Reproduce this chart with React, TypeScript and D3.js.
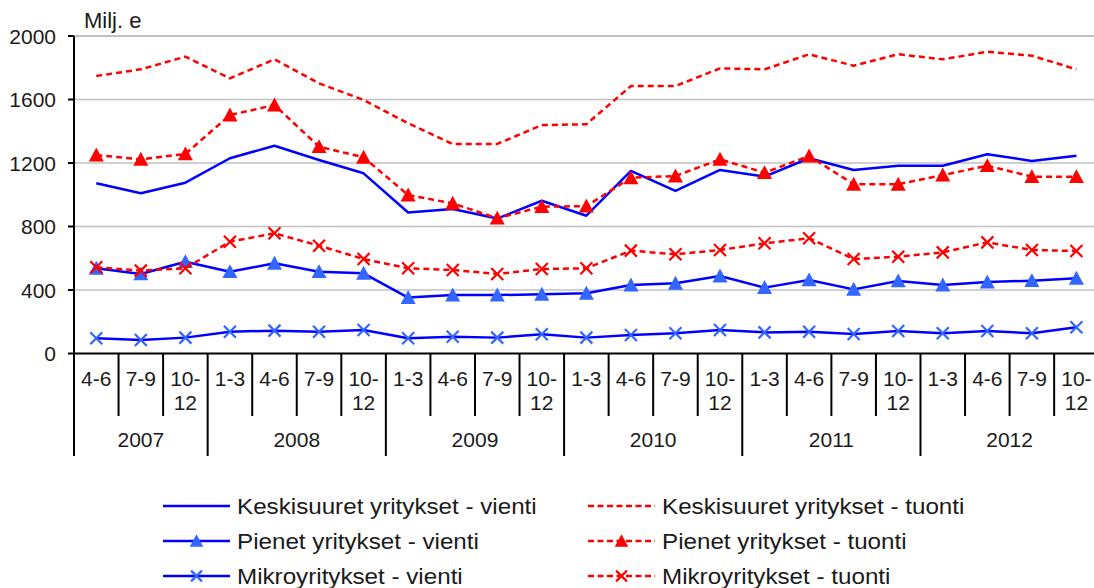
import React from "react";
import * as d3 from "d3";

// quarters, 2007 Q2 .. 2012 Q4
const quarters = [
  "4-6", "7-9", "10-12",
  "1-3", "4-6", "7-9", "10-12",
  "1-3", "4-6", "7-9", "10-12",
  "1-3", "4-6", "7-9", "10-12",
  "1-3", "4-6", "7-9", "10-12",
  "1-3", "4-6", "7-9", "10-12",
];
const years = ["2007", "2008", "2009", "2010", "2011", "2012"];
const yearSpans = [3, 4, 4, 4, 4, 4];
const yTicks = [0, 400, 800, 1200, 1600, 2000];

const keskiVienti = [1072, 1009, 1076, 1230, 1309, 1219, 1135, 888, 910, 850, 962, 868, 1150, 1024, 1156, 1114, 1230, 1156, 1183, 1183, 1255, 1213, 1246];
const keskiTuonti = [1748, 1790, 1870, 1733, 1853, 1702, 1597, 1450, 1320, 1320, 1439, 1444, 1685, 1685, 1796, 1790, 1885, 1813, 1885, 1853, 1901, 1876, 1790];
const pienetVienti = [537, 501, 578, 515, 568, 515, 505, 352, 368, 368, 373, 379, 431, 442, 488, 415, 463, 404, 457, 431, 450, 459, 474];
const pienetTuonti = [1250, 1223, 1257, 1502, 1565, 1303, 1236, 998, 946, 852, 925, 928, 1107, 1118, 1223, 1139, 1244, 1066, 1066, 1124, 1183, 1114, 1114];
const mikroVienti = [96, 85, 100, 137, 144, 137, 148, 96, 106, 100, 121, 100, 117, 127, 148, 133, 137, 123, 142, 127, 142, 127, 165];
const mikroTuonti = [543, 522, 537, 704, 757, 679, 595, 537, 526, 501, 532, 537, 648, 625, 652, 694, 726, 595, 610, 637, 700, 652, 646];

const BLUE = "#0000ff";
const LIGHT_BLUE = "#3366ff";
const RED = "#ff0000";
const FONT = "Liberation Sans, Arial, sans-serif";

type Series = {
  name: string;
  values: number[];
  color: string;
  dashed: boolean;
  marker: "none" | "triangle" | "x";
  markerColor: string;
};

const series: Series[] = [
  { name: "Keskisuuret yritykset - vienti", values: keskiVienti, color: BLUE, dashed: false, marker: "none", markerColor: BLUE },
  { name: "Keskisuuret yritykset - tuonti", values: keskiTuonti, color: RED, dashed: true, marker: "none", markerColor: RED },
  { name: "Pienet yritykset - vienti", values: pienetVienti, color: BLUE, dashed: false, marker: "triangle", markerColor: LIGHT_BLUE },
  { name: "Pienet yritykset - tuonti", values: pienetTuonti, color: RED, dashed: true, marker: "triangle", markerColor: RED },
  { name: "Mikroyritykset - vienti", values: mikroVienti, color: BLUE, dashed: false, marker: "x", markerColor: LIGHT_BLUE },
  { name: "Mikroyritykset - tuonti", values: mikroTuonti, color: RED, dashed: true, marker: "x", markerColor: RED },
];

const Marker = ({ type, x, y, color, size = 1 }: { type: string; x: number; y: number; color: string; size?: number }) => {
  if (type === "triangle") {
    const s = 7.5 * size;
    return <path d={`M${x},${y - s}L${x + s},${y + s * 0.85}L${x - s},${y + s * 0.85}Z`} fill={color} />;
  }
  if (type === "x") {
    const s = 6 * size;
    return (
      <path
        d={`M${x - s},${y - s}L${x + s},${y + s}M${x - s},${y + s}L${x + s},${y - s}`}
        stroke={color}
        strokeWidth={2.2}
        fill="none"
      />
    );
  }
  return null;
};

export default function App() {
  const width = 1094;
  const height = 588;
  const left = 74;
  const right = 1098.7;
  const top = 36;
  const bottom = 353.5;

  const x = d3.scaleBand<number>().domain(d3.range(quarters.length)).range([left, right]).paddingInner(0).paddingOuter(0);
  const bw = x.bandwidth();
  const cx = (i: number) => (x(i) as number) + bw / 2;
  const y = d3.scaleLinear().domain([0, 2000]).range([bottom, top]);

  const line = d3
    .line<number>()
    .x((_, i) => cx(i))
    .y((d) => y(d));

  // year boundaries as category indices
  const yearStarts: number[] = [];
  let acc = 0;
  yearSpans.forEach((s) => {
    yearStarts.push(acc);
    acc += s;
  });

  const edge = (i: number) => (i >= quarters.length ? right : (x(i) as number));

  return (
    <svg
      width={width}
      height={height}
      style={{ position: "absolute", left: 0, top: 0, background: "#fff" }}
      fontFamily={FONT}
    >
      {/* gridlines */}
      {yTicks
        .filter((t) => t > 0)
        .map((t) => (
          <line key={t} x1={left} x2={right} y1={y(t)} y2={y(t)} stroke="#c0c0c0" strokeWidth={t === 2000 ? 2 : 1.5} />
        ))}

      {/* y axis */}
      <line x1={left} x2={left} y1={top} y2={bottom} stroke="#000" strokeWidth={2} />
      {yTicks.map((t) => (
        <g key={t}>
          <line x1={left - 6} x2={left} y1={y(t)} y2={y(t)} stroke="#000" strokeWidth={2} />
          <text x={56} y={y(t)} dy="0.36em" textAnchor="end" fontSize={21} fill="#1a1a1a">
            {t}
          </text>
        </g>
      ))}
      <text x={84} y={28} fontSize={22} fill="#1a1a1a">
        Milj. e
      </text>

      {/* x axis */}
      <line x1={left} x2={right} y1={bottom} y2={bottom} stroke="#000" strokeWidth={2} />
      {quarters.map((q, i) => {
        const isYear = yearStarts.includes(i);
        const parts = q === "10-12" ? ["10-", "12"] : [q];
        return (
          <g key={i}>
            <line x1={edge(i)} x2={edge(i)} y1={bottom} y2={isYear ? 456 : 416} stroke="#000" strokeWidth={2} />
            {parts.map((p, k) => (
              <text key={k} x={cx(i)} y={386 + k * 24} textAnchor="middle" fontSize={21} fill="#1a1a1a">
                {p}
              </text>
            ))}
          </g>
        );
      })}
      <line x1={right} x2={right} y1={bottom} y2={456} stroke="#000" strokeWidth={2} />
      {years.map((yr, k) => {
        const a = edge(yearStarts[k]);
        const b = edge(yearStarts[k] + yearSpans[k]);
        return (
          <text key={yr} x={(a + b) / 2} y={447} textAnchor="middle" fontSize={21} fill="#1a1a1a">
            {yr}
          </text>
        );
      })}

      {/* series */}
      {series.map((s) => (
        <g key={s.name}>
          <path
            d={line(s.values) || ""}
            fill="none"
            stroke={s.color}
            strokeWidth={2.5}
            strokeDasharray={s.dashed ? "6,4" : undefined}
            strokeLinejoin="round"
          />
          {s.values.map((v, i) => (
            <Marker key={i} type={s.marker} x={cx(i)} y={y(v)} color={s.markerColor} />
          ))}
        </g>
      ))}

      {/* legend */}
      {series.map((s, k) => {
        const col = k % 2;
        const row = Math.floor(k / 2);
        const lx = col === 0 ? 163 : 588;
        const ly = 506 + row * 35;
        return (
          <g key={s.name}>
            <line
              x1={lx}
              x2={lx + 67}
              y1={ly}
              y2={ly}
              stroke={s.color}
              strokeWidth={2.5}
              strokeDasharray={s.dashed ? "6,3.5" : undefined}
            />
            <Marker type={s.marker} x={lx + 33.5} y={ly} color={s.markerColor} size={0.9} />
            <text
              transform={`translate(${lx + 74},${ly}) scale(1.1,1)`}
              dy="0.36em"
              fontSize={22}
              fill="#1a1a1a"
            >
              {s.name}
            </text>
          </g>
        );
      })}
    </svg>
  );
}
